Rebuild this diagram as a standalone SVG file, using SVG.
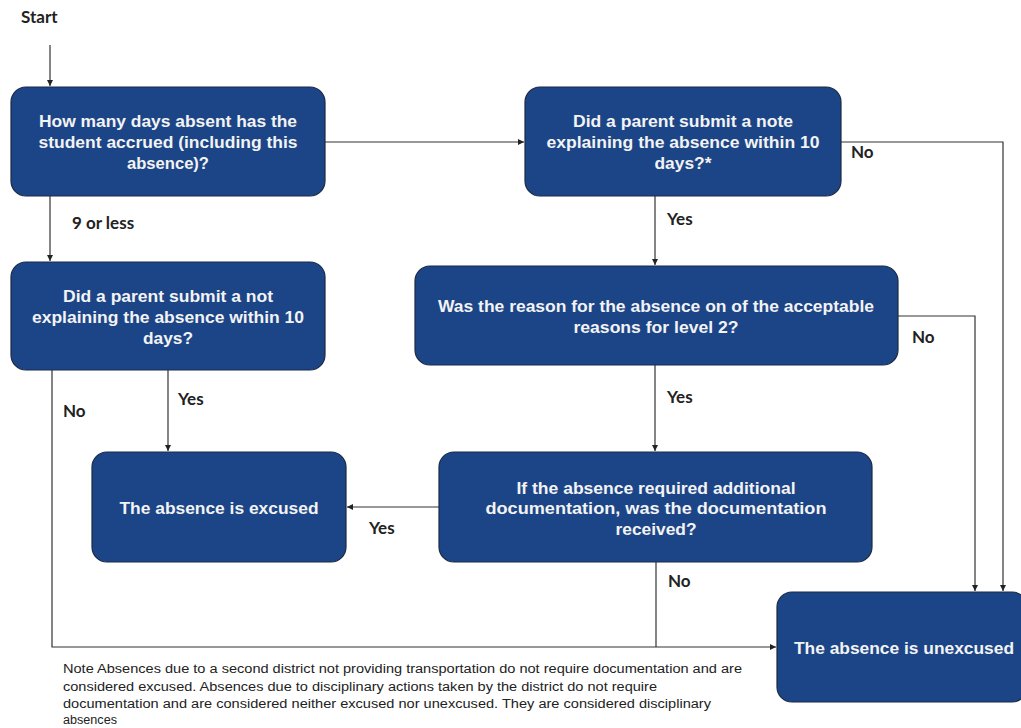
<svg xmlns="http://www.w3.org/2000/svg" width="1021" height="728" viewBox="0 0 1021 728">
<style>
.box{fill:#1c4587;stroke:#1a2a44;stroke-width:1.2}
.bt{font-family:"Liberation Sans",Arial,sans-serif;font-weight:bold;font-size:16px;fill:#f3f3f3;text-anchor:middle}
.lbl{font-family:Lato,"Liberation Sans",sans-serif;font-weight:bold;font-size:17px;fill:#222}
.note{font-family:"Liberation Sans",Arial,sans-serif;font-size:12.5px;fill:#222}
.c{fill:none;stroke:#333;stroke-width:1.2}
</style>
<defs>
<marker id="ah" markerWidth="8" markerHeight="8" refX="6" refY="3" orient="auto" markerUnits="userSpaceOnUse">
<path d="M0,0 L6,3 L0,6 Z" fill="#222"/>
</marker>
</defs>
<rect width="1021" height="728" fill="#fff"/>
<g id="connectors">
<path class="c" d="M50,45 V86" marker-end="url(#ah)"/>
<path class="c" d="M325,142 H524" marker-end="url(#ah)"/>
<path class="c" d="M841,142 H1003 V591" marker-end="url(#ah)"/>
<path class="c" d="M655,196 V265" marker-end="url(#ah)"/>
<path class="c" d="M898,316 H975 V591" marker-end="url(#ah)"/>
<path class="c" d="M655,365 V451" marker-end="url(#ah)"/>
<path class="c" d="M439,507 H347" marker-end="url(#ah)"/>
<path class="c" d="M50,196 V261" marker-end="url(#ah)"/>
<path class="c" d="M168,370 V451" marker-end="url(#ah)"/>
<path class="c" d="M52,370 V647 H776" marker-end="url(#ah)"/>
<path class="c" d="M656,562 V647"/>
</g>
<g id="labels">
<text class="lbl" x="21" y="23">Start</text>
<text class="lbl" x="72" y="229">9 or less</text>
<text class="lbl" x="851" y="158">No</text>
<text class="lbl" x="667" y="225">Yes</text>
<text class="lbl" x="912" y="343">No</text>
<text class="lbl" x="667" y="403">Yes</text>
<text class="lbl" x="178" y="405">Yes</text>
<text class="lbl" x="63" y="417">No</text>
<text class="lbl" x="369" y="534">Yes</text>
<text class="lbl" x="668" y="587">No</text>
</g>
<g id="n1">
<rect class="box" x="11" y="87" width="314" height="109" rx="15"/>
<text class="bt" x="168" y="127" textLength="258" lengthAdjust="spacingAndGlyphs">How many days absent has the</text>
<text class="bt" x="168" y="148" textLength="259" lengthAdjust="spacingAndGlyphs">student accrued (including this</text>
<text class="bt" x="168" y="169" textLength="82" lengthAdjust="spacingAndGlyphs">absence)?</text>
</g>
<g id="n2">
<rect class="box" x="525" y="87" width="316" height="109" rx="15"/>
<text class="bt" x="683" y="127" textLength="220" lengthAdjust="spacingAndGlyphs">Did a parent submit a note</text>
<text class="bt" x="683" y="148" textLength="273" lengthAdjust="spacingAndGlyphs">explaining the absence within 10</text>
<text class="bt" x="683" y="169" textLength="57" lengthAdjust="spacingAndGlyphs">days?*</text>
</g>
<g id="n3">
<rect class="box" x="11" y="262" width="314" height="108" rx="15"/>
<text class="bt" x="168" y="302" textLength="210" lengthAdjust="spacingAndGlyphs">Did a parent submit a not</text>
<text class="bt" x="168" y="323" textLength="272" lengthAdjust="spacingAndGlyphs">explaining the absence within 10</text>
<text class="bt" x="168" y="344" textLength="50" lengthAdjust="spacingAndGlyphs">days?</text>
</g>
<g id="n4">
<rect class="box" x="415" y="266" width="483" height="99" rx="15"/>
<text class="bt" x="656" y="312" textLength="436" lengthAdjust="spacingAndGlyphs">Was the reason for the absence on of the acceptable</text>
<text class="bt" x="656" y="333" textLength="165" lengthAdjust="spacingAndGlyphs">reasons for level 2?</text>
</g>
<g id="n5">
<rect class="box" x="439" y="452" width="433" height="110" rx="15"/>
<text class="bt" x="656" y="494" textLength="279" lengthAdjust="spacingAndGlyphs">If the absence required additional</text>
<text class="bt" x="656" y="514" textLength="341" lengthAdjust="spacingAndGlyphs">documentation, was the documentation</text>
<text class="bt" x="656" y="535" textLength="81" lengthAdjust="spacingAndGlyphs">received?</text>
</g>
<g id="n6">
<rect class="box" x="92" y="452" width="254" height="110" rx="15"/>
<text class="bt" x="219" y="514" textLength="199" lengthAdjust="spacingAndGlyphs">The absence is excused</text>
</g>
<g id="n7">
<rect class="box" x="777" y="592" width="250" height="110" rx="15"/>
<text class="bt" x="904" y="654" textLength="220" lengthAdjust="spacingAndGlyphs">The absence is unexcused</text>
</g>
<g id="note">
<text class="note" x="63" y="673" textLength="679" lengthAdjust="spacingAndGlyphs">Note Absences due to a second district not providing transportation do not require documentation and are</text>
<text class="note" x="63" y="691" textLength="594" lengthAdjust="spacingAndGlyphs">considered excused. Absences due to disciplinary actions taken by the district do not require</text>
<text class="note" x="63" y="708" textLength="648" lengthAdjust="spacingAndGlyphs">documentation and are considered neither excused nor unexcused. They are considered disciplinary</text>
<text class="note" x="63" y="724" textLength="54" lengthAdjust="spacingAndGlyphs">absences</text>
</g>
</svg>
